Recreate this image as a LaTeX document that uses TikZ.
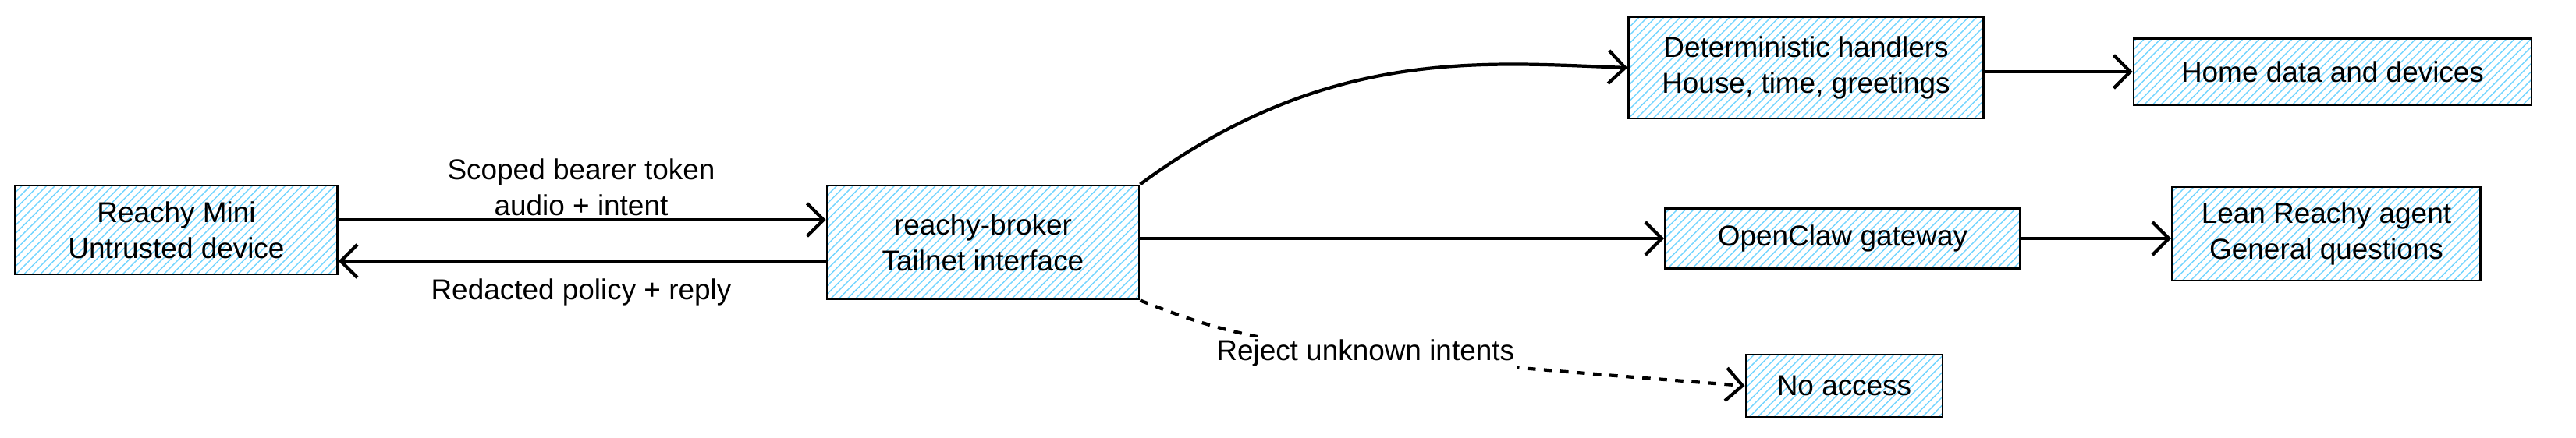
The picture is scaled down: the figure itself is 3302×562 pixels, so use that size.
\documentclass[tikz,border=0pt]{standalone}
\usepackage{fontspec}
\setmainfont{Liberation Sans}
\usetikzlibrary{patterns,arrows.meta}
\begin{document}
\begin{tikzpicture}[x=0.01cm,y=-0.01cm,
    box/.style={rectangle, draw, thick, pattern=north east lines, pattern color=blue!30!cyan!55, align=center, font=\fontsize{10.5}{13}\selectfont},
    lbl/.style={fill=white, align=center, font=\fontsize{10.5}{13}\selectfont, inner sep=1pt},
    arr/.style={-{Straight Barb[length=6pt]}, very thick}]
    \useasboundingbox (0,0) rectangle (3302,562);
    \node at (226,295) [box, minimum width=413*0.01cm, minimum height=114*0.01cm] (Reachy) {Reachy Mini\\Untrusted device};
    \node at (1260,311) [box, minimum width=400*0.01cm, minimum height=146*0.01cm] (Broker) {reachy-broker\\Tailnet interface};
    \node at (2315,87) [box, minimum width=455*0.01cm, minimum height=130*0.01cm] (Handlers) {Deterministic handlers\\House, time, greetings};
    \node at (2990,92) [box, minimum width=510*0.01cm, minimum height=85*0.01cm] (Home) {Home data and devices};
    \node at (2362,306) [box, minimum width=455*0.01cm, minimum height=77*0.01cm] (Gateway) {OpenClaw gateway};
    \node at (2982,300) [box, minimum width=395*0.01cm, minimum height=120*0.01cm] (Agent) {Lean Reachy agent\\General questions};
    \node at (2364,495) [box, minimum width=252*0.01cm, minimum height=80*0.01cm] (NoAccess) {No access};

    \node at (745,240) [lbl] (TokenLbl) {Scoped bearer token\\audio + intent};
    \node at (745,375) [lbl] (ReplyLbl) {Redacted policy + reply};

    \draw[arr] (Reachy.east |- 0,282) -- (Broker.west |- 0,282);
    \draw[arr] (Broker.west |- 0,335) -- (Reachy.east |- 0,335);
    \draw[arr] (Broker.north east) .. controls (1700,60) and (1900,80) .. (Handlers.west);
    \draw[arr] (Broker.east |- Gateway) -- (Gateway.west);
    \draw[arr, dashed] (Broker.south east) .. controls (1600,440) and (1650,450) .. node[lbl, pos=0.6] {Reject unknown intents} (NoAccess.west);
    \draw[arr] (Gateway.east) -- (Agent.west |- Gateway);
    \draw[arr] (Handlers.east |- Home) -- (Home.west);
\end{tikzpicture}
\end{document}
